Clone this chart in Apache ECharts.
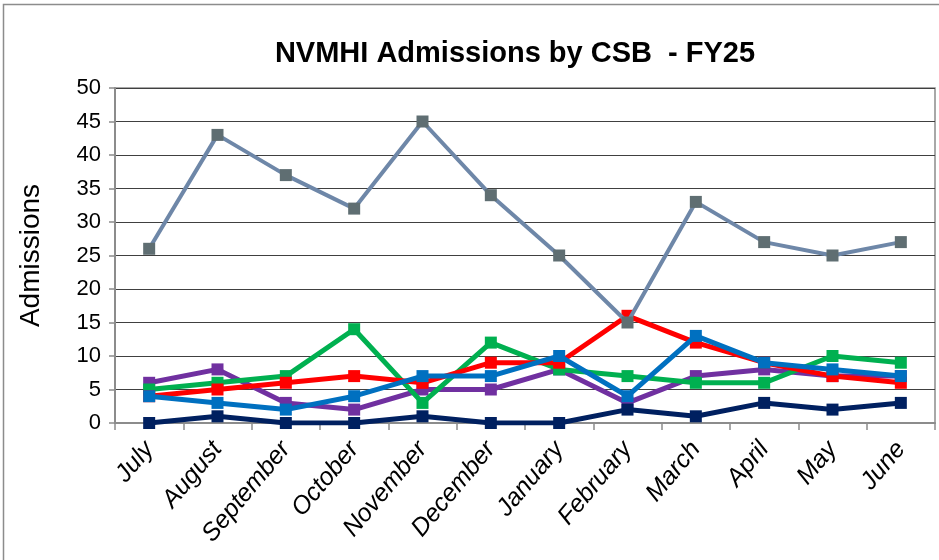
<!DOCTYPE html>
<html>
<head>
<meta charset="utf-8">
<script src="https://cdn.jsdelivr.net/npm/echarts@6/dist/echarts.min.js"></script>
<style>
  html, body { margin: 0; padding: 0; background: #ffffff; }
  #chart { width: 939px; height: 560px; }
</style>
</head>
<body>
<div id="chart"></div>
<script>
// Monthly admissions per CSB, fiscal year 2025
const months = ['July', 'August', 'September', 'October', 'November', 'December',
                'January', 'February', 'March', 'April', 'May', 'June'];
const yTicks = [0, 5, 10, 15, 20, 25, 30, 35, 40, 45, 50];

const slateSeries  = [26, 43, 37, 32, 45, 34, 25, 15, 33, 27, 25, 27];
const redSeries    = [4, 5, 6, 7, 6, 9, 9, 16, 12, 9, 7, 6];
const greenSeries  = [5, 6, 7, 14, 3, 12, 8, 7, 6, 6, 10, 9];
const blueSeries   = [4, 3, 2, 4, 7, 7, 10, 4, 13, 9, 8, 7];
const purpleSeries = [6, 8, 3, 2, 5, 5, 8, 3, 7, 8, 7, 7];
const navySeries   = [0, 1, 0, 0, 1, 0, 0, 2, 1, 3, 2, 3];

function lineSeries(name, data, lineColor, markerColor, width, z) {
  return {
    name: name,
    type: 'line',
    data: data,
    symbol: 'rect',
    symbolSize: 12,
    z: z,
    lineStyle: { color: lineColor, width: width },
    itemStyle: { color: markerColor, borderWidth: 0 },
    emphasis: { disabled: true },
    animation: false
  };
}

const chart = echarts.init(document.getElementById('chart'), null, { renderer: 'canvas' });
chart.setOption({
  backgroundColor: '#ffffff',
  animation: false,
  title: {
    text: 'NVMHI Admissions by CSB  - FY25',
    left: 510,
    top: 34,
    textAlign: 'center',
    textStyle: { fontFamily: 'Liberation Sans', fontWeight: 'bold', fontSize: 29, color: '#000000' }
  },
  graphic: [{
    type: 'rect',
    shape: { x: 3.5, y: 4.5, width: 960, height: 600 },
    style: { fill: 'none', stroke: '#8c8c8c', lineWidth: 1.5 },
    silent: true,
    z: -1
  }],
  grid: {
    left: 115, right: 4, top: 88, bottom: 137,
    show: true, borderColor: '#8c8c8c', borderWidth: 1.5, backgroundColor: 'transparent'
  },
  xAxis: {
    type: 'category',
    data: months,
    boundaryGap: true,
    axisLine: { lineStyle: { color: '#8c8c8c', width: 2 } },
    axisTick: { show: true, alignWithLabel: false, length: 7, lineStyle: { color: '#8c8c8c', width: 1.5 } },
    axisLabel: {
      rotate: 50, interval: 0, margin: 22,
      fontFamily: 'Liberation Sans', fontStyle: 'italic', fontSize: 25, color: '#000000'
    },
    splitLine: { show: false }
  },
  yAxis: {
    type: 'value',
    min: yTicks[0],
    max: yTicks[yTicks.length - 1],
    interval: 5,
    name: 'Admissions',
    nameLocation: 'middle',
    nameGap: 70,
    nameRotate: 90,
    nameTextStyle: { fontFamily: 'Liberation Sans', fontSize: 28, color: '#000000' },
    axisLine: { show: true, lineStyle: { color: '#8c8c8c', width: 2 } },
    axisTick: { show: true, length: 6, lineStyle: { color: '#8c8c8c', width: 1.5 } },
    axisLabel: { fontFamily: 'Liberation Sans', fontSize: 22, color: '#000000', margin: 14 },
    splitLine: { show: true, lineStyle: { color: '#404040', width: 1 } }
  },
  series: [
    lineSeries('Purple', purpleSeries, '#7030a0', '#7030a0', 5, 2),
    lineSeries('Green', greenSeries, '#00b050', '#00b050', 5, 3),
    lineSeries('Red', redSeries, '#ff0000', '#ff0000', 5, 4),
    lineSeries('Slate', slateSeries, '#6e87a8', '#5f6e72', 4, 5),
    lineSeries('Blue', blueSeries, '#0070c0', '#0070c0', 5, 6),
    lineSeries('Navy', navySeries, '#002060', '#002060', 5, 7)
  ]
});
</script>
</body>
</html>
